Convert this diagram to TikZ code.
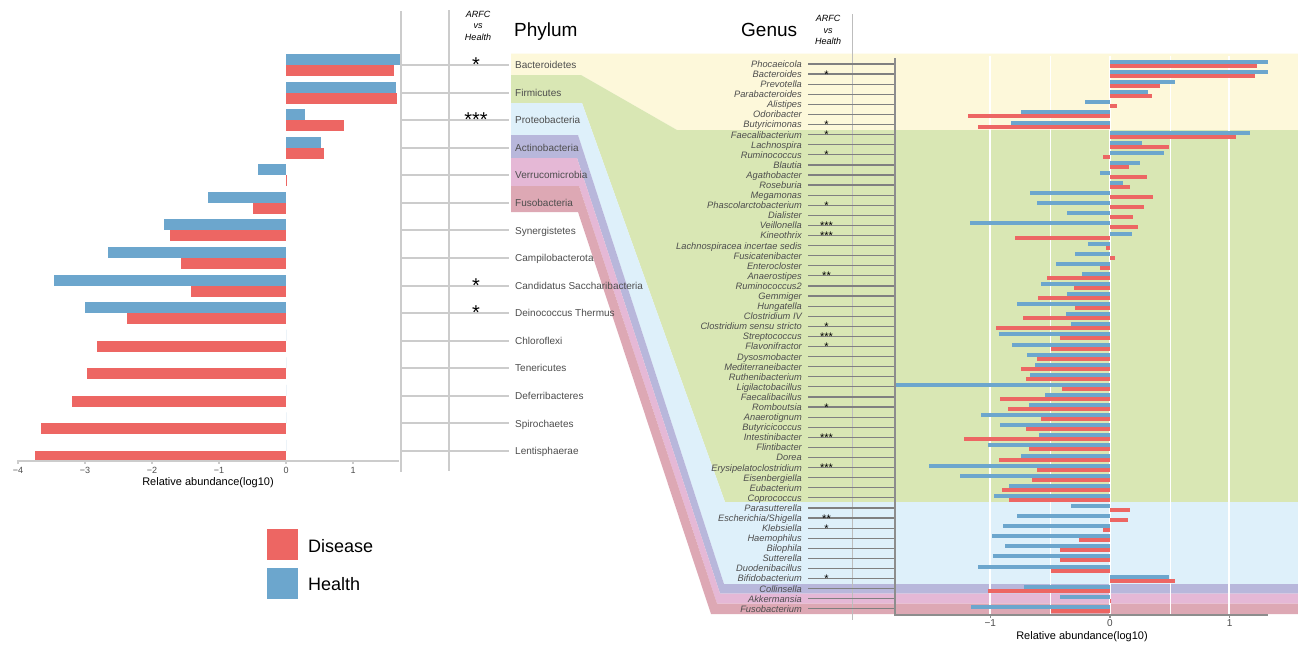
\documentclass[tikz,border=0pt]{standalone}
\usepackage{fontspec}
\setmainfont{Liberation Sans}
\definecolor{disease}{RGB}{237,102,99}
\definecolor{health}{RGB}{108,166,205}
\definecolor{bactcol}{RGB}{253,248,218}
\definecolor{firmcol}{RGB}{217,231,180}
\definecolor{protcol}{RGB}{222,240,250}
\definecolor{actcol}{RGB}{184,183,219}
\definecolor{verrcol}{RGB}{229,184,214}
\definecolor{fusocol}{RGB}{221,168,180}
\definecolor{lightgray}{RGB}{204,204,204}
\definecolor{labgray}{RGB}{77,77,77}
\definecolor{linegray}{RGB}{128,128,128}

\begin{document}
\begin{tikzpicture}[x=1pt,y=-1pt,
		phylab/.style={anchor=base west,inner sep=0pt,text=labgray,font=\fontsize{10}{12}\selectfont},
		genlab/.style={anchor=base east,inner sep=0pt,text=labgray,font=\fontsize{9.3}{11}\selectfont\itshape},
		bigstar/.style={anchor=base,inner sep=0pt,font=\fontsize{20}{20}\selectfont},
		smallstar/.style={anchor=base,inner sep=0pt,font=\fontsize{11}{11}\selectfont},
		vshead/.style={align=center,inner sep=0pt,font=\fontsize{9}{11.5}\selectfont\itshape},
		title/.style={anchor=base west,inner sep=0pt,font=\fontsize{19}{22}\selectfont},
		ticklab/.style={anchor=base,inner sep=0pt,text=labgray},
		axistitle/.style={anchor=base,inner sep=0pt,font=\fontsize{11}{13}\selectfont},
		gridline/.style={lightgray,line width=2pt},
		rowline/.style={linegray,line width=1.2pt},
		axisline/.style={lightgray,line width=1.2pt},
		panelline/.style={linegray!90,line width=1.5pt},
		whitegrid/.style={white,line width=1.3pt},
		legtext/.style={anchor=base west,inner sep=0pt,font=\fontsize{18}{20}\selectfont}]
	\useasboundingbox (0,0) rectangle (1298,645);
	\fill[white] (0,0) rectangle (1298,645);

	% bandas de color phylum -> genus
	\fill[bactcol] (511,53.5) -- (1298,53.5) -- (1298,130) -- (677,130) -- (581,75) -- (511,75) -- cycle;
	\fill[firmcol] (511,75) -- (581,75) -- (677,130) -- (1298,130) -- (1298,502) -- (725,502) -- (582,103) -- (511,103) -- cycle;
	\fill[protcol] (511,103) -- (582,103) -- (725,502) -- (1298,502) -- (1298,584) -- (724,584) -- (578,135) -- (511,135) -- cycle;
	\fill[actcol] (511,135) -- (578,135) -- (724,584) -- (1298,584) -- (1298,593.5) -- (720,593.5) -- (577,158) -- (511,158) -- cycle;
	\fill[verrcol] (511,158) -- (577,158) -- (720,593.5) -- (1298,593.5) -- (1298,603.5) -- (717,603.5) -- (579,186) -- (511,186) -- cycle;
	\fill[fusocol] (511,186) -- (579,186) -- (717,603.5) -- (1298,603.5) -- (1298,614) -- (711,614) -- (578,212) -- (511,212) -- cycle;

	% panel izquierdo
	\draw[gridline] (401,11) -- (401,472);
	\draw[gridline] (449,10) -- (449,471);
	\node[vshead] (lhead) at (478,25.5) {ARFC\\vs\\Health};
	\node[title] (phylum) at (514,36.5) {Phylum};
	\foreach \p/\hb/\dr [count=\k] in {Bacteroidetes/1.70/1.61, Firmicutes/1.64/1.66,
			Proteobacteria/0.28/0.87, Actinobacteria/0.52/0.56, Verrucomicrobia/-0.42/0.02,
			Fusobacteria/-1.16/-0.49, Synergistetes/-1.82/-1.73, Campilobacterota/-2.65/-1.56,
			Candidatus Saccharibacteria/-3.47/-1.42, Deinococcus Thermus/-3.00/-2.38,
			Chloroflexi/0/-2.82, Tenericutes/0/-2.97, Deferribacteres/0/-3.19,
			Spirochaetes/0/-3.65, Lentisphaerae/0/-3.75} {
		\pgfmathsetmacro\yy{65+27.57*(\k-1)}
		\fill[health] (286,\yy-11) rectangle ({286+67*\hb},\yy);
		\fill[disease] (286,\yy) rectangle ({286+67*\dr},\yy+11);
		\draw[gridline] (401,\yy) -- (509,\yy);
		\node[phylab] (p\k) at (515,\yy+3.7) {\p};
	}
	\foreach \k/\s in {1/*, 3/***, 9/*, 10/*} {
		\node[bigstar] (ps\k) at (476,{65+27.57*(\k-1)+6.5}) {\s};
	}
	\draw[axisline] (17,461) -- (399,461);
	\foreach \t/\lab [count=\c] in {-4/−4, -3/−3, -2/−2, -1/−1, 0/0, 1/1} {
		\draw[axisline] ({286+67*\t},461) -- ++(0,3);
		\node[ticklab,font=\fontsize{9}{10}\selectfont] (lt\c) at ({286+67*\t},473.3) {\lab};
	}
	\node[axistitle] (laxis) at (208,485) {Relative abundance(log10)};

	% leyenda
	\fill[disease] (267,529) rectangle (298,560);
	\node[legtext] (ldis) at (308,552) {Disease};
	\fill[health] (267,568) rectangle (298,599);
	\node[legtext] (lhea) at (308,590.7) {Health};

	% panel derecho
	\node[title] (genus) at (741,36) {Genus};
	\node[vshead] (rhead) at (828,30) {ARFC\\vs\\Health};
	\draw[lightgray!80!gray,line width=1pt] (852,14) -- (852,620);
	\foreach \t in {990,1110,1229} \draw[whitegrid] (\t,56) -- (\t,614);
	\foreach \t in {1050,1170} \draw[white,line width=0.7pt] (\t,56) -- (\t,614);
	\foreach \g/\hb/\dr [count=\k] in {Phocaeicola/1.32/1.23, Bacteroides/1.32/1.21,
			Prevotella/0.54/0.42, Parabacteroides/0.32/0.35, Alistipes/-0.21/0.06,
			Odoribacter/-0.74/-1.19, Butyricimonas/-0.83/-1.10, Faecalibacterium/1.17/1.05,
			Lachnospira/0.27/0.49, Ruminococcus/0.45/-0.06, Blautia/0.25/0.16,
			Agathobacter/-0.08/0.31, Roseburia/0.11/0.17, Megamonas/-0.67/0.36,
			Phascolarctobacterium/-0.61/0.28, Dialister/-0.36/0.19, Veillonella/-1.17/0.23,
			Kineothrix/0.18/-0.79, Lachnospiracea incertae sedis/-0.18/-0.03,
			Fusicatenibacter/-0.29/0.04, Enterocloster/-0.45/-0.08, Anaerostipes/-0.23/-0.53,
			Ruminococcus2/-0.58/-0.30, Gemmiger/-0.36/-0.60, Hungatella/-0.78/-0.29,
			Clostridium IV/-0.37/-0.73, Clostridium sensu stricto/-0.33/-0.95,
			Streptococcus/-0.93/-0.42, Flavonifractor/-0.82/-0.49, Dysosmobacter/-0.69/-0.61,
			Mediterraneibacter/-0.63/-0.74, Ruthenibacterium/-0.67/-0.70,
			Ligilactobacillus/-1.795/-0.40, Faecalibacillus/-0.54/-0.92, Romboutsia/-0.68/-0.85,
			Anaerotignum/-1.08/-0.58, Butyricicoccus/-0.92/-0.70, Intestinibacter/-0.59/-1.22,
			Flintibacter/-1.02/-0.68, Dorea/-0.74/-0.93, Erysipelatoclostridium/-1.51/-0.61,
			Eisenbergiella/-1.25/-0.65, Eubacterium/-0.84/-0.90, Coprococcus/-0.97/-0.84,
			Parasutterella/-0.33/0.17, {Escherichia/Shigella}/-0.78/0.15, Klebsiella/-0.89/-0.06,
			Haemophilus/-0.99/-0.26, Bilophila/-0.88/-0.42, Sutterella/-0.98/-0.42,
			Duodenibacillus/-1.10/-0.49, Bifidobacterium/0.49/0.54, Collinsella/-0.72/-1.02,
			Akkermansia/-0.42/0.006, Fusobacterium/-1.16/-0.49} {
		\pgfmathsetmacro\yy{64+10.09*(\k-1)}
		\fill[health] (1110,\yy-4) rectangle ({1110+119.7*\hb},\yy);
		\fill[disease] (1110,\yy) rectangle ({1110+119.7*\dr},\yy+4);
		\draw[rowline] (808,\yy) -- (895,\yy);
		\node[genlab] (g\k) at (802,\yy+3.4) {\g};
	}
	\foreach \k/\s in {2/*, 7/*, 8/*, 10/*, 15/*, 17/***, 18/***, 22/**, 27/*, 28/***,
			29/*, 35/*, 38/***, 41/***, 46/**, 47/*, 52/*} {
		\node[smallstar] (gs\k) at (826.5,{64+10.09*(\k-1)+4}) {\s};
	}
	\draw[panelline] (895,58) -- (895,615) -- (1268,615);
	\foreach \t/\lab [count=\c] in {-1/−1, 0/0, 1/1} {
		\draw[panelline] ({1110+119.7*\t},615) -- ++(0,3);
		\node[ticklab,font=\fontsize{10}{11}\selectfont] (rt\c) at ({1110+119.7*\t},626.7) {\lab};
	}
	\node[axistitle] (raxis) at (1082,639) {Relative abundance(log10)};
\end{tikzpicture}
\end{document}
